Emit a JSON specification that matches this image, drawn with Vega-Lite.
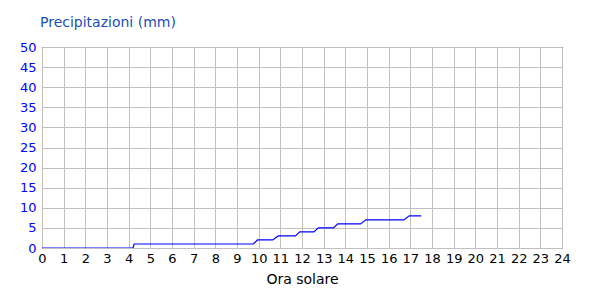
{
  "$schema": "https://vega.github.io/schema/vega-lite/v6.json",
  "autosize": "none",
  "width": 520,
  "height": 201,
  "padding": {"left": 42, "top": 47, "right": 38, "bottom": 52},
  "background": "white",
  "config": {
    "font": "DejaVu Sans",
    "view": {"stroke": "black", "strokeWidth": 1}
  },
  "title": {
    "text": "Precipitazioni (mm)",
    "anchor": "start",
    "frame": "group",
    "dx": -2,
    "offset": 11,
    "color": "#1a4fb4",
    "fontSize": 14,
    "fontWeight": "normal",
    "font": "DejaVu Sans"
  },
  "data": {
    "values": [
      {"ora": 0, "mm": 0},
      {"ora": 4.2, "mm": 0},
      {"ora": 4.25, "mm": 1},
      {"ora": 9.75, "mm": 1},
      {"ora": 9.95, "mm": 2},
      {"ora": 10.65, "mm": 2},
      {"ora": 10.9, "mm": 3},
      {"ora": 11.7, "mm": 3},
      {"ora": 11.9, "mm": 4},
      {"ora": 12.55, "mm": 4},
      {"ora": 12.75, "mm": 5},
      {"ora": 13.45, "mm": 5},
      {"ora": 13.65, "mm": 6},
      {"ora": 14.7, "mm": 6},
      {"ora": 14.95, "mm": 7},
      {"ora": 16.7, "mm": 7},
      {"ora": 16.95, "mm": 8},
      {"ora": 17.5, "mm": 8}
    ]
  },
  "mark": {"type": "line", "color": "#0000ff", "strokeWidth": 1.2, "clip": true},
  "encoding": {
    "x": {
      "field": "ora",
      "type": "quantitative",
      "scale": {"domain": [0, 24], "nice": false, "zero": false},
      "axis": {
        "title": "Ora solare",
        "titleFont": "DejaVu Sans",
        "titleFontSize": 14,
        "titleFontWeight": "normal",
        "titleColor": "black",
        "titlePadding": 7,
        "values": [0,1,2,3,4,5,6,7,8,9,10,11,12,13,14,15,16,17,18,19,20,21,22,23,24],
        "format": "d",
        "labelFontSize": 13,
        "labelColor": "black",
        "labelPadding": 4,
        "labelFlush": false,
        "labelOverlap": false,
        "ticks": false,
        "domain": false,
        "grid": true,
        "gridColor": "#c0c0c0",
        "gridOpacity": 1,
        "gridWidth": 1
      }
    },
    "y": {
      "field": "mm",
      "type": "quantitative",
      "scale": {"domain": [0, 50], "nice": false},
      "axis": {
        "title": null,
        "values": [0,5,10,15,20,25,30,35,40,45,50],
        "labelFontSize": 13,
        "labelColor": "#0000ff",
        "labelPadding": 6,
        "labelFlush": false,
        "labelOverlap": false,
        "ticks": false,
        "domain": false,
        "grid": true,
        "gridColor": "#c0c0c0",
        "gridOpacity": 1,
        "gridWidth": 1
      }
    }
  }
}
